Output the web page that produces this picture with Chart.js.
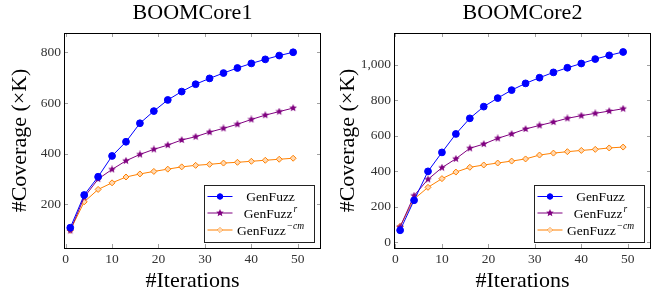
<!DOCTYPE html>
<html lang="en">
<head>
<meta charset="UTF-8">
<title>BOOMCore coverage</title>
<script src="https://cdn.jsdelivr.net/npm/chart.js@4.4.3/dist/chart.umd.min.js"></script>
<style>
  html, body { margin: 0; padding: 0; background: #fff; overflow: hidden; width: 652px; height: 297px; }
  canvas { position: absolute; top: 0; }
  #core1 { left: 0; }
  #core2 { left: 326px; }
</style>
</head>
<body>
<canvas id="core1" width="326" height="297"></canvas>
<canvas id="core2" width="330" height="297"></canvas>
<script>
// x values shared by every series
const iterations = [1, 4, 7, 10, 13, 16, 19, 22, 25, 28, 31, 34, 37, 40, 43, 46, 49];
const xTicks = [0, 10, 20, 30, 40, 50];

const seriesNames = ['GenFuzz', 'GenFuzz', 'GenFuzz'];
const seriesSup = ['', 'r', '\u2212cm'];

// BOOMCore1
const core1YTicks    = [200, 400, 600, 800];
const core1GenFuzz   = [108, 237, 309, 391, 447, 520, 568, 612, 645, 674, 697, 718, 738, 756, 772, 787, 800];
const core1GenFuzzR  = [97, 228, 300, 338, 372, 397, 417, 434, 454, 467, 485, 500, 516, 535, 552, 566, 580];
const core1GenFuzzCm = [98, 210, 259, 285, 308, 320, 330, 339, 348, 354, 358, 363, 366, 370, 374, 378, 382];

// BOOMCore2
const core2YTicks    = [0, 200, 400, 600, 800, 1000];
const core2GenFuzz   = [68, 237, 400, 507, 611, 699, 765, 813, 858, 896, 928, 958, 984, 1008, 1033, 1054, 1073];
const core2GenFuzzR  = [87, 263, 355, 421, 471, 530, 554, 586, 611, 639, 659, 678, 699, 714, 727, 740, 753];
const core2GenFuzzCm = [90, 244, 310, 359, 396, 423, 436, 447, 458, 470, 492, 503, 511, 518, 524, 532, 537];

const SERIF = '"Liberation Serif", "Times New Roman", serif';

// small filled 5-point star like the pgfplots mark
function starImage(color, size) {
  const c = document.createElement('canvas');
  c.width = size; c.height = size;
  const g = c.getContext('2d');
  const cx = size / 2, cy = size / 2, R = size / 2, r = R * 0.45;
  g.beginPath();
  for (let k = 0; k < 10; k++) {
    const ang = -Math.PI / 2 + k * Math.PI / 5;
    const rad = k % 2 === 0 ? R : r;
    g.lineTo(cx + rad * Math.cos(ang), cy + rad * Math.sin(ang));
  }
  g.closePath();
  g.fillStyle = color;
  g.fill();
  return c;
}

const styles = [
  { color: '#0000ff', pointStyle: 'circle', radius: 3.4, fill: '#0000ff' },
  { color: '#800080', pointStyle: starImage('#800080', 8), radius: 4, fill: '#800080' },
  { color: '#ff8000', pointStyle: 'rectRot', radius: 3, fill: '#ffd9b3' }
];

function makeDatasets(lists) {
  return lists.map((vals, i) => ({
    label: seriesNames[i] + seriesSup[i],
    data: vals.map((v, j) => ({ x: iterations[j], y: v })),
    borderColor: styles[i].color,
    backgroundColor: styles[i].fill,
    borderWidth: 1,
    pointStyle: styles[i].pointStyle,
    pointRadius: styles[i].radius,
    pointBorderColor: styles[i].color,
    pointBackgroundColor: styles[i].fill,
    pointBorderWidth: 1,
    tension: 0
  }));
}

// frame, inner tick marks and the pgfplots-like legend
const framePlugin = {
  id: 'frame',
  afterDraw(chart) {
    const { ctx, chartArea: a, scales } = chart;
    ctx.save();
    ctx.strokeStyle = '#a0a0a0';
    ctx.lineWidth = 1;
    ctx.beginPath();
    scales.x.ticks.forEach(t => {
      const px = Math.round(scales.x.getPixelForValue(t.value)) + 0.5;
      ctx.moveTo(px, a.bottom); ctx.lineTo(px, a.bottom - 4);
      ctx.moveTo(px, a.top); ctx.lineTo(px, a.top + 4);
    });
    scales.y.ticks.forEach(t => {
      const py = Math.round(scales.y.getPixelForValue(t.value)) + 0.5;
      ctx.moveTo(a.left, py); ctx.lineTo(a.left + 4, py);
      ctx.moveTo(a.right, py); ctx.lineTo(a.right - 4, py);
    });
    ctx.stroke();

    ctx.strokeStyle = '#000';
    ctx.strokeRect(Math.round(a.left) + 0.5, Math.round(a.top) + 0.5,
                   Math.round(a.right - a.left) - 1, Math.round(a.bottom - a.top));

    // legend
    const w = 110, h = 57;
    const lx = Math.round(a.right - 7 - w) + 0.5;
    const ly = Math.round(a.bottom - 6.5 - h) + 0.5;
    ctx.fillStyle = '#fff';
    ctx.fillRect(lx, ly, w, h);
    ctx.strokeStyle = '#222';
    ctx.strokeRect(lx, ly, w, h);
    const rows = [11, 27.5, 44.5];
    chart.data.datasets.forEach((ds, i) => {
      const cy = ly + rows[i];
      ctx.strokeStyle = ds.borderColor;
      ctx.lineWidth = 1;
      ctx.beginPath();
      ctx.moveTo(lx + 3, cy); ctx.lineTo(lx + 28, cy);
      ctx.stroke();
      ctx.beginPath();
      ctx.fillStyle = ds.pointBackgroundColor;
      Chart.helpers.drawPoint(ctx, {
        pointStyle: ds.pointStyle, radius: ds.pointRadius * 0.8,
        borderWidth: 1, rotation: 0
      }, lx + 15.5, cy);
      if (typeof ds.pointStyle === 'string') ctx.fill();

      const main = seriesNames[i], sup = seriesSup[i];
      ctx.font = '13.5px ' + SERIF;
      const mw = ctx.measureText(main).width;
      ctx.font = 'italic 9.5px ' + SERIF;
      const sw = sup ? ctx.measureText(sup).width + 1 : 0;
      const start = lx + 66 - (mw + sw) / 2;
      ctx.fillStyle = '#000';
      ctx.textBaseline = 'middle';
      ctx.textAlign = 'left';
      ctx.font = '13.5px ' + SERIF;
      ctx.fillText(main, start, cy + 1);
      if (sup) {
        ctx.font = 'italic 9.5px ' + SERIF;
        ctx.fillText(sup, start + mw + 1, cy - 4);
      }
    });
    ctx.restore();
  }
};

function makeChart(id, title, lists, yTicks, yMin, yMax, yWidth, xMin, xMax, yTitlePad, padRight) {
  return new Chart(document.getElementById(id), {
    type: 'line',
    data: { datasets: makeDatasets(lists) },
    options: {
      responsive: false,
      animation: false,
      devicePixelRatio: 1,
      layout: { padding: { left: 0, right: padRight, top: 0, bottom: 0 } },
      plugins: {
        legend: { display: false },
        tooltip: { enabled: false },
        title: {
          display: true,
          text: title,
          fullSize: false,
          color: '#000',
          font: { family: SERIF, size: 22, weight: 'normal' },
          padding: { top: 0, bottom: 6.6 }
        }
      },
      scales: {
        x: {
          type: 'linear',
          min: xMin,
          max: xMax,
          grid: { display: false, drawTicks: false },
          border: { display: false },
          ticks: {
            padding: 3,
            color: '#333',
            font: { family: SERIF, size: 13.5 }
          },
          afterBuildTicks(scale) { scale.ticks = xTicks.map(v => ({ value: v })); },
          title: {
            display: true,
            text: '#Iterations',
            color: '#000',
            font: { family: SERIF, size: 22 },
            padding: { top: 0, bottom: 3 }
          },
          afterFit(scale) { scale.height = 49; }
        },
        y: {
          type: 'linear',
          min: yMin,
          max: yMax,
          grid: { display: false, drawTicks: false },
          border: { display: false },
          ticks: {
            padding: 3,
            color: '#333',
            font: { family: SERIF, size: 13.5 },
            callback: v => v.toLocaleString('en-US')
          },
          afterBuildTicks(scale) { scale.ticks = yTicks.map(v => ({ value: v })); },
          title: {
            display: true,
            text: '#Coverage (\u00d7K)',
            color: '#000',
            font: { family: SERIF, size: 22 },
            padding: { top: yTitlePad, bottom: 0 }
          },
          afterFit(scale) { scale.width = yWidth; }
        }
      }
    },
    plugins: [framePlugin]
  });
}

makeChart('core1', 'BOOMCore1', [core1GenFuzz, core1GenFuzzR, core1GenFuzzCm],
          core1YTicks, 28, 876, 64, -0.35, 55, 6.8, 1);
makeChart('core2', 'BOOMCore2', [core2GenFuzz, core2GenFuzzR, core2GenFuzzCm],
          core2YTicks, -32, 1180, 68, -0.32, 55, 9.3, 2);
</script>
</body>
</html>
